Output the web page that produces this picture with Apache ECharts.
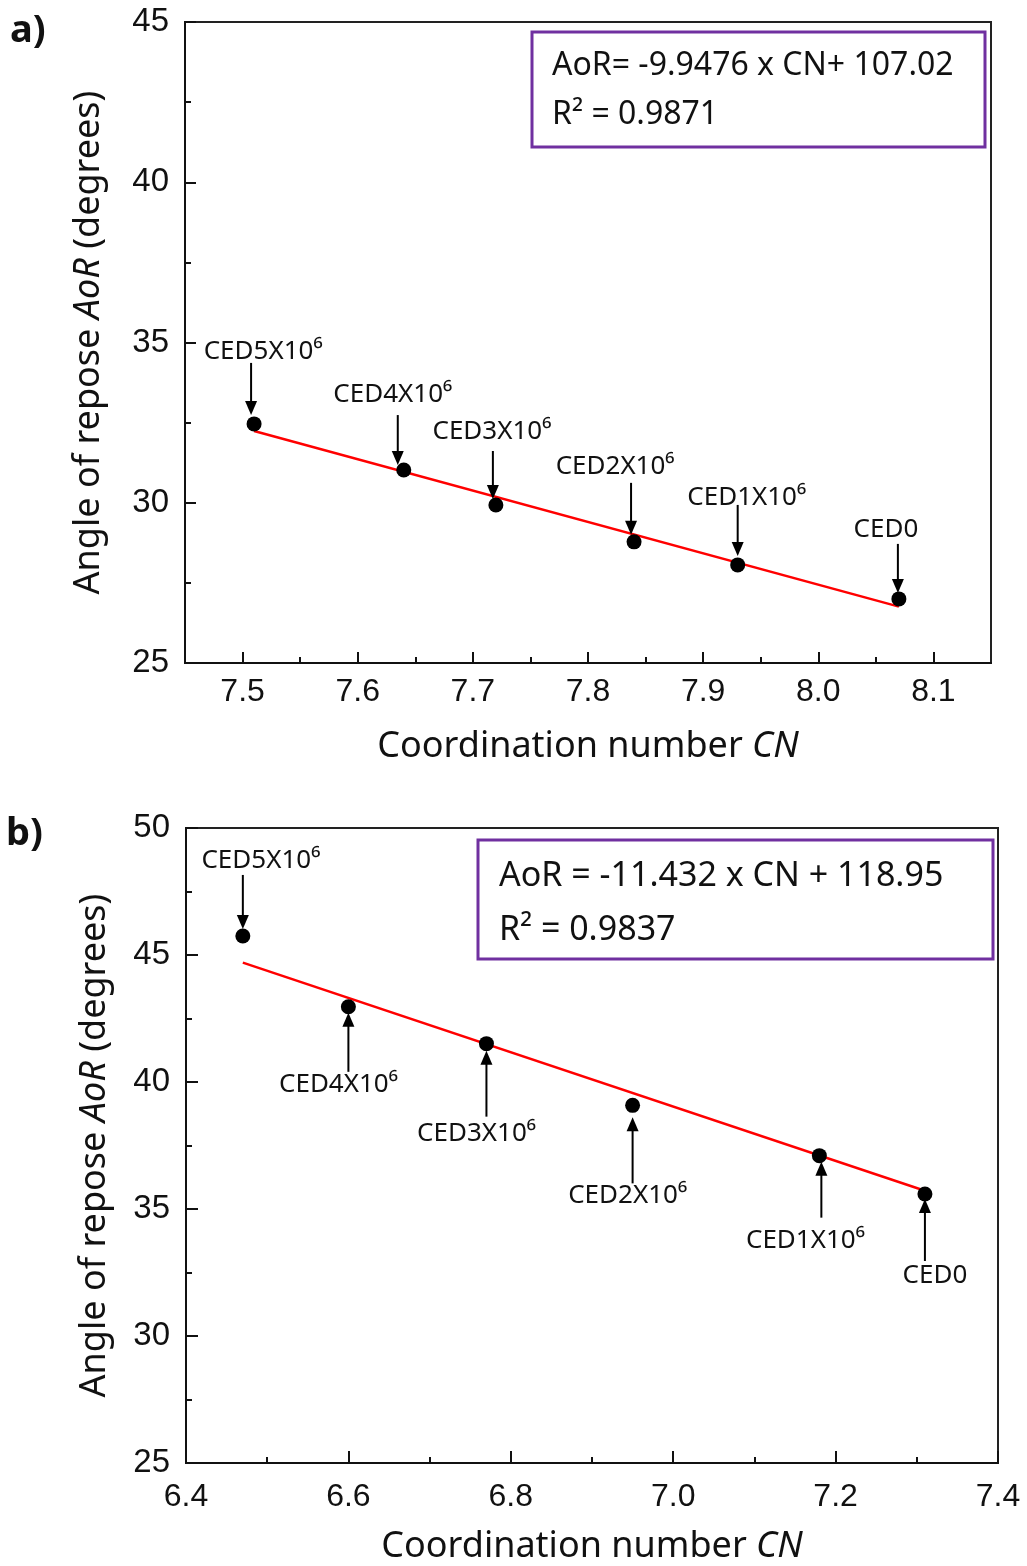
<!DOCTYPE html>
<html>
<head>
<meta charset="utf-8">
<script src="https://cdn.jsdelivr.net/npm/echarts@6/dist/echarts.min.js"></script>
<style>
html,body{margin:0;padding:0;background:#fff;}
#chart{width:1027px;height:1566px;}
</style>
</head>
<body>
<div id="chart"></div>
<script>
// ---------- DATA ----------
const sampleLabels = ['CED5X10⁶', 'CED4X10⁶', 'CED3X10⁶', 'CED2X10⁶', 'CED1X10⁶', 'CED0'];

// Panel a
const cnA  = [7.51, 7.64, 7.72, 7.84, 7.93, 8.07];
const aorA = [32.46, 31.02, 29.93, 28.78, 28.06, 27.00];
const fitCnA  = [7.51, 8.07];
const fitAorA = [32.24, 26.76];
const xMajorA = [7.5, 7.6, 7.7, 7.8, 7.9, 8.0, 8.1];
const xMinorA = [7.55, 7.65, 7.75, 7.85, 7.95, 8.05];
const eqA = ['AoR= -9.9476 x CN+ 107.02', 'R² = 0.9871'];

// Panel b
const cnB  = [6.47, 6.60, 6.77, 6.95, 7.18, 7.31];
const aorB = [45.75, 42.96, 41.51, 39.08, 37.10, 35.59];
const fitCnB  = [6.47, 7.31];
const fitAorB = [44.70, 35.72];
const eqB = ['AoR = -11.432 x CN + 118.95', 'R² = 0.9837'];

const panelLetters = ['a)', 'b)'];
const xTitle = '{n|Coordination number }{i|CN}';
const yTitle = '{n|Angle of repose }{i|AoR}{n| (degrees)}';

// ---------- LAYOUT (annotation offsets in px relative to each point) ----------
// [labelDx, labelDy, arrowDx, arrowStartDy, arrowTipDy]
const annotLayoutA = [
  [9, -72, -3, -61, -9],
  [-11, -75, -6, -55, -5],
  [-4, -73, -3, -54, -6],
  [-19, -75, -3, -59, -7],
  [9, -67, 0, -60, -9],
  [-13, -69, -1, -55, -6]
];
const annotLayoutB = [
  [18, -75, 0, -61, -7],
  [-10, 78, 0, 65, 6],
  [-10, 90, 0, 73, 7],
  [-5, 90, 0, 78, 12],
  [-14, 85, 2, 62, 6],
  [10, 82, 0, 67, 5]
];

const TICK_FONT = '"Liberation Sans", Arial, sans-serif';
const TEXT_FONT = '"Noto Sans", "Open Sans", sans-serif';

function pairs(xs, ys) { return xs.map((x, i) => [x, ys[i]]); }

function annotRenderer(layout) {
  return function (params, api) {
    const p = api.coord([api.value(0), api.value(1)]);
    const i = api.value(2);
    const L = layout[i];
    const ax = p[0] + L[2];
    const y0 = p[1] + L[3];
    const y1 = p[1] + L[4];
    const dir = y1 > y0 ? 1 : -1;
    const headLen = 14, headHalf = 6;
    return {
      type: 'group',
      children: [
        { type: 'line', shape: { x1: ax, y1: y0, x2: ax, y2: y1 - dir * headLen * 0.6 },
          style: { stroke: '#000', lineWidth: 2 } },
        { type: 'polygon', shape: { points: [[ax, y1], [ax - headHalf, y1 - dir * headLen], [ax + headHalf, y1 - dir * headLen]] },
          style: { fill: '#000' } },
        { type: 'text', x: p[0] + L[0], y: p[1] + L[1],
          style: { text: sampleLabels[i], font: '26px ' + TEXT_FONT, fill: '#111', align: 'center', verticalAlign: 'middle' } }
      ]
    };
  };
}

const nameRich = {
  n: { fontSize: 36, fontFamily: TEXT_FONT, color: '#111' },
  i: { fontSize: 36, fontFamily: TEXT_FONT, fontStyle: 'italic', color: '#111' }
};

function baseAxisStyle() {
  return {
    axisLine: { show: true, onZero: false, lineStyle: { color: '#111', width: 2 } },
    splitLine: { show: false }
  };
}

const chart = echarts.init(document.getElementById('chart'), null, { renderer: 'canvas' });

const option = {
  backgroundColor: '#fff',
  animation: false,
  grid: [
    { left: 185, top: 22, width: 806, height: 641, show: true, borderColor: '#222', borderWidth: 2, backgroundColor: 'transparent' },
    { left: 186, top: 828, width: 812, height: 635, show: true, borderColor: '#222', borderWidth: 2, backgroundColor: 'transparent' }
  ],
  xAxis: [
    Object.assign(baseAxisStyle(), {
      gridIndex: 0, type: 'value', min: 7.45, max: 8.15, position: 'bottom',
      axisTick: { show: true, inside: true, length: 11, customValues: xMajorA, lineStyle: { color: '#111', width: 2 } },
      axisLabel: { show: true, customValues: xMajorA, formatter: v => Number(v).toFixed(1), fontSize: 32, fontFamily: TICK_FONT, color: '#111', margin: 13 },
      name: xTitle, nameLocation: 'middle', nameGap: 66, nameTextStyle: { rich: nameRich }
    }),
    {
      gridIndex: 0, type: 'value', min: 7.45, max: 8.15, position: 'bottom',
      axisLine: { show: false }, splitLine: { show: false },
      axisTick: { show: true, inside: true, length: 6, customValues: xMinorA, lineStyle: { color: '#111', width: 2 } },
      axisLabel: { show: false }
    },
    Object.assign(baseAxisStyle(), {
      gridIndex: 1, type: 'value', min: 6.4, max: 7.4, interval: 0.2,
      axisTick: { show: true, inside: true, length: 12, lineStyle: { color: '#111', width: 2 } },
      minorTick: { show: true, splitNumber: 2, length: 6, lineStyle: { color: '#111', width: 2 } },
      axisLabel: { formatter: v => Number(v).toFixed(1), fontSize: 32, fontFamily: TICK_FONT, color: '#111', margin: 18, showMinLabel: true, showMaxLabel: true },
      name: xTitle, nameLocation: 'middle', nameGap: 66, nameTextStyle: { rich: nameRich }
    })
  ],
  yAxis: [
    Object.assign(baseAxisStyle(), {
      gridIndex: 0, type: 'value', min: 25, max: 45, interval: 5,
      axisTick: { show: true, inside: true, length: 11, lineStyle: { color: '#111', width: 2 } },
      minorTick: { show: true, splitNumber: 2, length: 6, lineStyle: { color: '#111', width: 2 } },
      axisLabel: { fontSize: 33, fontFamily: TICK_FONT, color: '#111', margin: 16 },
      name: yTitle, nameLocation: 'middle', nameRotate: 90, nameGap: 78, nameTextStyle: { rich: nameRich }
    }),
    Object.assign(baseAxisStyle(), {
      gridIndex: 1, type: 'value', min: 25, max: 50, interval: 5,
      axisTick: { show: true, inside: true, length: 12, lineStyle: { color: '#111', width: 2 } },
      minorTick: { show: true, splitNumber: 2, length: 6, lineStyle: { color: '#111', width: 2 } },
      axisLabel: { fontSize: 33, fontFamily: TICK_FONT, color: '#111', margin: 16 },
      name: yTitle, nameLocation: 'middle', nameRotate: 90, nameGap: 73, nameTextStyle: { rich: nameRich }
    })
  ],
  series: [
    { type: 'line', xAxisIndex: 0, yAxisIndex: 0, data: pairs(fitCnA, fitAorA), symbol: 'none',
      lineStyle: { color: '#ff0000', width: 2.5 }, z: 2 },
    { type: 'scatter', xAxisIndex: 0, yAxisIndex: 0, data: pairs(cnA, aorA), symbol: 'circle', symbolSize: 15,
      itemStyle: { color: '#000', opacity: 1 }, z: 3 },
    { type: 'custom', xAxisIndex: 0, yAxisIndex: 0, data: cnA.map((x, i) => [x, aorA[i], i]),
      renderItem: annotRenderer(annotLayoutA), clip: false, z: 4 },

    { type: 'line', xAxisIndex: 2, yAxisIndex: 1, data: pairs(fitCnB, fitAorB), symbol: 'none',
      lineStyle: { color: '#ff0000', width: 2.5 }, z: 2 },
    { type: 'scatter', xAxisIndex: 2, yAxisIndex: 1, data: pairs(cnB, aorB), symbol: 'circle', symbolSize: 15,
      itemStyle: { color: '#000', opacity: 1 }, z: 3 },
    { type: 'custom', xAxisIndex: 2, yAxisIndex: 1, data: cnB.map((x, i) => [x, aorB[i], i]),
      renderItem: annotRenderer(annotLayoutB), clip: false, z: 4 }
  ],
  graphic: [
    { type: 'text', left: 10, top: 12, style: { text: panelLetters[0], font: 'bold 38px ' + TEXT_FONT, fill: '#111' } },
    { type: 'text', left: 6, top: 815, style: { text: panelLetters[1], font: 'bold 38px ' + TEXT_FONT, fill: '#111' } },
    { type: 'rect', shape: { x: 532, y: 32, width: 453, height: 115 }, style: { fill: '#fff', stroke: '#7030A0', lineWidth: 3 }, z: 10 },
    { type: 'text', x: 552, y: 66, style: { text: eqA[0], font: '32px ' + TEXT_FONT, fill: '#111', verticalAlign: 'middle' }, z: 11 },
    { type: 'text', x: 552, y: 115, style: { text: eqA[1], font: '32px ' + TEXT_FONT, fill: '#111', verticalAlign: 'middle' }, z: 11 },
    { type: 'rect', shape: { x: 478, y: 840, width: 515, height: 119 }, style: { fill: '#fff', stroke: '#7030A0', lineWidth: 3 }, z: 10 },
    { type: 'text', x: 499, y: 876, style: { text: eqB[0], font: '34px ' + TEXT_FONT, fill: '#111', verticalAlign: 'middle' }, z: 11 },
    { type: 'text', x: 499, y: 930, style: { text: eqB[1], font: '34px ' + TEXT_FONT, fill: '#111', verticalAlign: 'middle' }, z: 11 }
  ]
};

chart.setOption(option);
</script>
</body>
</html>
